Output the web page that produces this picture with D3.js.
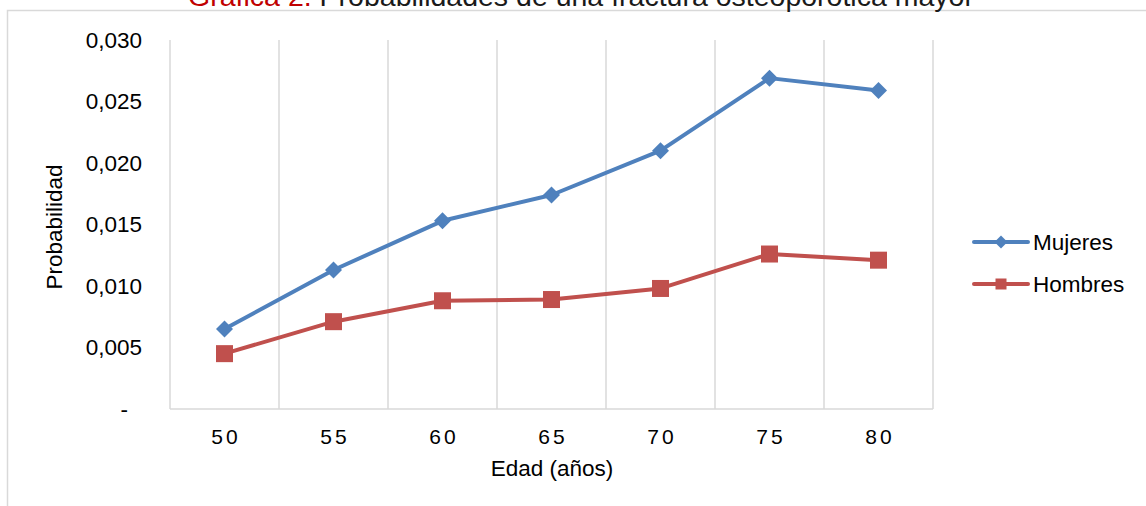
<!DOCTYPE html>
<html><head><meta charset="utf-8">
<script src="https://cdn.jsdelivr.net/npm/d3@7"></script>
<style>body{margin:0;background:#fff;} svg{display:block;} text{font-family:"Liberation Sans",Arial,sans-serif;}</style>
</head><body>
<svg id="chart" width="1146" height="506"></svg>
<script>
const categories = ["50","55","60","65","70","75","80"];
const mujeres = [0.0065,0.0113,0.0153,0.0174,0.0210,0.0269,0.0259];
const hombres = [0.0045,0.0071,0.0088,0.0089,0.0098,0.0126,0.0121];
const yTicks = [0,0.005,0.010,0.015,0.020,0.025,0.030];
const seriesNames = ["Mujeres","Hombres"];

const svg = d3.select("#chart");
const W = 1146, H = 506;
const m = {left:170, right:933, top:40, bottom:409};

// frame
svg.append("rect").attr("x",7.5).attr("y",10.5).attr("width",1200).attr("height",600)
  .attr("fill","none").attr("stroke","#d9d9d9").attr("stroke-width",1.5);

// title
const title = svg.append("text").attr("x",581).attr("y",6).attr("text-anchor","middle")
  .style("font-size","28.5px");
title.append("tspan").attr("fill","#c00000").text("Gráfica 2.");
title.append("tspan").attr("fill","#1a1a1a").text(" Probabilidades de una fractura osteoporótica mayor");

const x = d3.scaleBand().domain(categories).range([m.left,m.right]).padding(0);
const y = d3.scaleLinear().domain([0,0.030]).range([m.bottom,m.top]);

// vertical gridlines at band edges
const edges = categories.map(c=>x(c)).concat([m.right]);
svg.append("g").selectAll("line").data(edges).join("line")
  .attr("x1",d=>d).attr("x2",d=>d).attr("y1",m.top).attr("y2",m.bottom)
  .attr("stroke","#d9d9d9").attr("stroke-width",1.5);
// bottom axis line
svg.append("line").attr("x1",m.left).attr("x2",m.right).attr("y1",m.bottom).attr("y2",m.bottom)
  .attr("stroke","#d9d9d9").attr("stroke-width",1.5);

// y axis labels
const fmt = d => d===0 ? "-" : d3.format(".3f")(d).replace(".",",");
svg.append("g").selectAll("text").data(yTicks).join("text")
  .attr("x",d=>d===0?128:142).attr("y",d=>y(d)).attr("dy","0.35em")
  .attr("text-anchor","end").style("font-size","22.5px").attr("fill","#000")
  .text(fmt);

// x axis labels
svg.append("g").selectAll("text").data(categories).join("text")
  .attr("x",d=>x(d)+x.bandwidth()/2+1.5).attr("y",444).attr("text-anchor","middle")
  .style("font-size","21px").style("letter-spacing","3px").attr("fill","#000")
  .text(d=>d);

// axis titles
svg.append("text").attr("x",552).attr("y",476).attr("text-anchor","middle")
  .style("font-size","22.5px").attr("fill","#000").text("Edad (años)");
svg.append("text").attr("transform","translate(62,227) rotate(-90)").attr("text-anchor","middle")
  .style("font-size","22.5px").attr("fill","#000").text("Probabilidad");

const colors = ["#4f81bd","#c0504d"];
const data = [mujeres, hombres];
const line = d3.line().x((d,i)=>x(categories[i])+x.bandwidth()/2).y(d=>y(d));

data.forEach((s,k)=>{
  svg.append("path").datum(s).attr("d",line).attr("fill","none")
    .attr("stroke",colors[k]).attr("stroke-width",4).attr("stroke-linejoin","round");
});
// markers
svg.append("g").selectAll("path").data(mujeres).join("path")
  .attr("transform",(d,i)=>`translate(${x(categories[i])+x.bandwidth()/2},${y(d)})`)
  .attr("d","M0,-8.5L8.5,0L0,8.5L-8.5,0Z").attr("fill",colors[0]);
svg.append("g").selectAll("rect").data(hombres).join("rect")
  .attr("x",(d,i)=>x(categories[i])+x.bandwidth()/2-8.5).attr("y",d=>y(d)-8.5)
  .attr("width",17).attr("height",17).attr("fill",colors[1]);

// legend
const legY = [242,284];
seriesNames.forEach((n,k)=>{
  const g = svg.append("g");
  g.append("line").attr("x1",974).attr("x2",1028).attr("y1",legY[k]).attr("y2",legY[k])
    .attr("stroke",colors[k]).attr("stroke-width",4).attr("stroke-linecap","round");
  if(k===0){
    g.append("path").attr("transform",`translate(1001,${legY[k]})`)
      .attr("d","M0,-6.5L6.5,0L0,6.5L-6.5,0Z").attr("fill",colors[k]);
  } else {
    g.append("rect").attr("x",1001-5.5).attr("y",legY[k]-5.5).attr("width",11).attr("height",11).attr("fill",colors[k]);
  }
  g.append("text").attr("x",1033).attr("y",legY[k]).attr("dy","0.35em")
    .style("font-size","22.5px").attr("fill","#000").text(n);
});
</script>
</body></html>
